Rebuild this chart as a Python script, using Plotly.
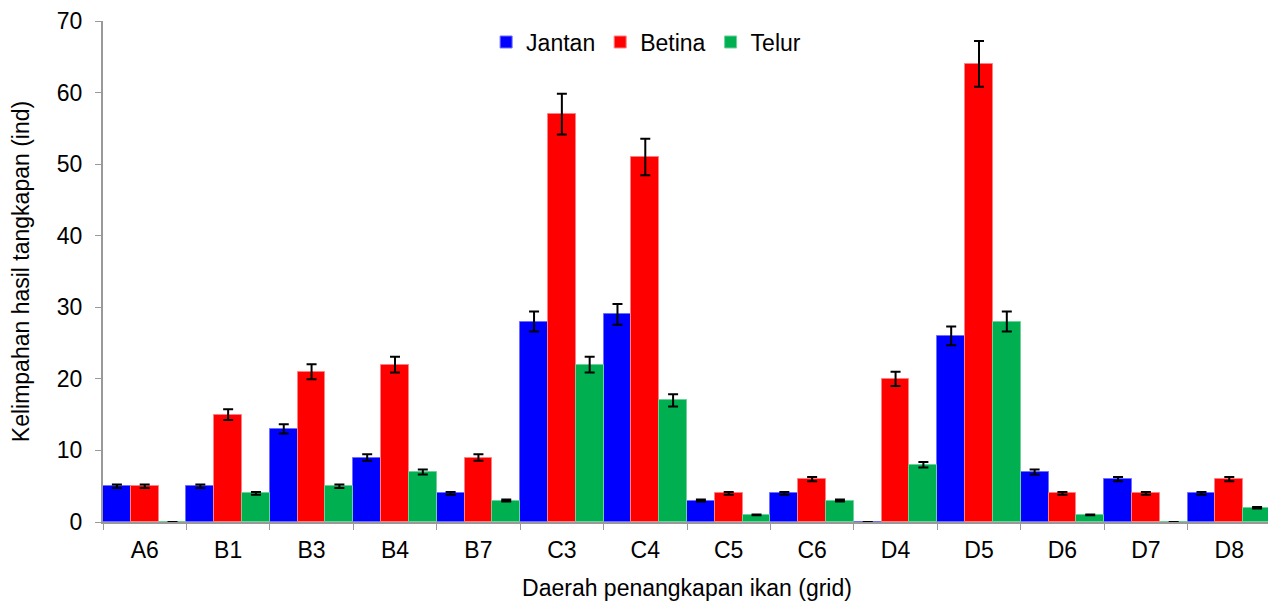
import plotly.graph_objects as go

categories = ["A6", "B1", "B3", "B4", "B7", "C3", "C4", "C5", "C6", "D4", "D5", "D6", "D7", "D8"]
jantan = [5, 5, 13, 9, 4, 28, 29, 3, 4, 0, 26, 7, 6, 4]
betina = [5, 15, 21, 22, 9, 57, 51, 4, 6, 20, 64, 4, 4, 6]
telur = [0, 4, 5, 7, 3, 22, 17, 1, 3, 8, 28, 1, 0, 2]
err_jantan = [0.25, 0.25, 0.65, 0.45, 0.2, 1.4, 1.45, 0.15, 0.2, 0, 1.3, 0.35, 0.3, 0.2]
err_betina = [0.25, 0.75, 1.05, 1.1, 0.45, 2.85, 2.55, 0.2, 0.3, 1.0, 3.2, 0.2, 0.2, 0.3]
err_telur = [0, 0.2, 0.25, 0.35, 0.15, 1.1, 0.85, 0.05, 0.15, 0.4, 1.4, 0.05, 0, 0.1]

series = [
    ("Jantan", jantan, err_jantan, "#0000FF", "#6f6fff"),
    ("Betina", betina, err_betina, "#FF0000", "#ff8080"),
    ("Telur", telur, err_telur, "#00B050", "#70d09a"),
]

fig = go.Figure()
for name, vals, errs, col, edge in series:
    fig.add_trace(go.Bar(
        name=name, x=categories, y=vals,
        marker=dict(color=col, line=dict(color=edge, width=1)),
        error_y=dict(type="data", array=errs, visible=True, color="black", thickness=2, width=5),
    ))

fig.update_layout(
    width=1276, height=602,
    paper_bgcolor="white", plot_bgcolor="white",
    barmode="group", bargap=0, bargroupgap=0,
    margin=dict(l=95, r=13, t=13, b=88, autoexpand=False),
    font=dict(family="Liberation Sans, Arial, sans-serif", size=23, color="black"),
    legend=dict(orientation="h", x=0.465, xanchor="center", y=0.958, yanchor="middle",
                font=dict(size=23), itemwidth=30, tracegroupgap=0, bgcolor="rgba(0,0,0,0)"),
    xaxis=dict(
        type="category", tickson="boundaries", ticks="outside", ticklen=6, tickcolor="#999999",
        showline=True, linecolor="#999999", linewidth=2, showgrid=False, automargin=False,
        ticklabelstandoff=6,
        title=dict(text="Daerah penangkapan ikan (grid)", font=dict(size=23), standoff=18),
        tickfont=dict(size=23),
    ),
    yaxis=dict(
        range=[0, 70], dtick=10, ticks="outside", ticklen=6, tickcolor="#999999",
        showline=True, linecolor="#999999", linewidth=2, showgrid=False, zeroline=False,
        automargin=False, ticklabelstandoff=8,
        title=dict(text="Kelimpahan hasil tangkapan (ind)", font=dict(size=23), standoff=24),
        tickfont=dict(size=23),
    ),
)

fig.write_html("out.html")
